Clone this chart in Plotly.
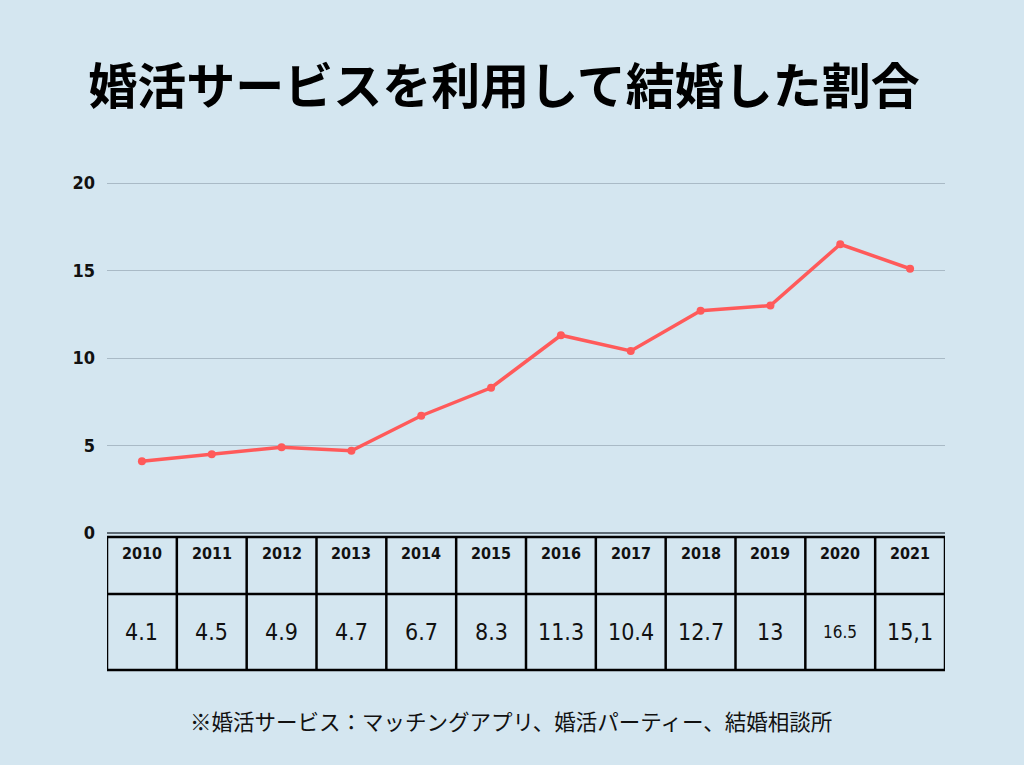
import plotly.graph_objects as go

years = [2010, 2011, 2012, 2013, 2014, 2015, 2016, 2017, 2018, 2019, 2020, 2021]
rates = [4.1, 4.5, 4.9, 4.7, 6.7, 8.3, 11.3, 10.4, 12.7, 13, 16.5, 15.1]
rate_labels = ["4.1", "4.5", "4.9", "4.7", "6.7", "8.3", "11.3", "10.4", "12.7", "13", "16.5", "15,1"]
y_ticks = [0, 5, 10, 15, 20]

title_text = "婚活サービスを利用して結婚した割合"
note_text = "※婚活サービス：マッチングアプリ、婚活パーティー、結婚相談所"

BG = "#d4e6f0"
RED = "#ff5a5a"
NARROW = "DejaVu Sans Condensed, Liberation Sans Narrow, sans-serif"
CJK = "Noto Sans CJK JP, Noto Sans CJK SC, sans-serif"

fig = go.Figure()
fig.add_trace(go.Scatter(
    x=years, y=rates, mode="lines+markers",
    line=dict(color=RED, width=3.5),
    marker=dict(color=RED, size=8),
    hoverinfo="x+y", showlegend=False,
))

y_max = 20.4
plot_bot = 533.0
px_per_unit = 17.5
plot_top = plot_bot - y_max * px_per_unit
plot_h = plot_bot - plot_top
def py(px_abs):
    return (plot_bot - px_abs) / plot_h

t_top, t_mid, t_bot = py(537), py(594), py(670)
lw = 2.5
shapes = []
for yy in (t_top, t_mid, t_bot):
    shapes.append(dict(type="line", xref="x", yref="paper", x0=years[0] - 0.5, x1=years[-1] + 0.5,
                       y0=yy, y1=yy, line=dict(color="black", width=lw)))
for i in range(len(years) + 1):
    xx = years[0] - 0.5 + i
    shapes.append(dict(type="line", xref="x", yref="paper", x0=xx, x1=xx,
                       y0=t_top, y1=t_bot, line=dict(color="black", width=lw)))

annotations = []
for yr, lab in zip(years, rate_labels):
    annotations.append(dict(x=yr, y=py(553), xref="x", yref="paper", yanchor="middle",
                            text=f"<b>{yr}</b>", showarrow=False,
                            font=dict(family=NARROW, size=16, color="#111", weight="bold")))
    annotations.append(dict(x=yr, y=py(632), xref="x", yref="paper", yanchor="middle",
                            text=lab, showarrow=False,
                            font=dict(family=NARROW, size=17 if lab == "16.5" else 23, color="#111")))

annotations.append(dict(x=(511 - 107) / 838, y=py(720), xref="paper", yref="paper", yanchor="middle",
                        text=note_text, showarrow=False,
                        font=dict(family=CJK, size=21.5, color="#111")))

fig.update_layout(
    width=1024, height=765,
    paper_bgcolor=BG, plot_bgcolor=BG,
    margin=dict(l=107, r=79, t=plot_top, b=765 - plot_bot),
    title=dict(text=f"<b>{title_text}</b>", x=504 / 1024, xanchor="center", y=1 - 87 / 765, yanchor="middle",
               font=dict(family=CJK, size=49, color="#000")),
    xaxis=dict(range=[years[0] - 0.5, years[-1] + 0.5], showgrid=False, showticklabels=False,
               zeroline=False, showline=False, ticks=""),
    yaxis=dict(range=[0, y_max], tickvals=y_ticks, showgrid=True, gridcolor="#a9bac6", gridwidth=1,
               zeroline=True, zerolinecolor="#5e6b75", zerolinewidth=1.5, showline=False,
               tickfont=dict(family=NARROW, size=18, color="#111", weight="bold"), ticklabelstandoff=11),
    shapes=shapes,
    annotations=annotations,
)

fig.write_html("out.html", config={"displayModeBar": False},
               post_script="document.body.style.margin='0';")
